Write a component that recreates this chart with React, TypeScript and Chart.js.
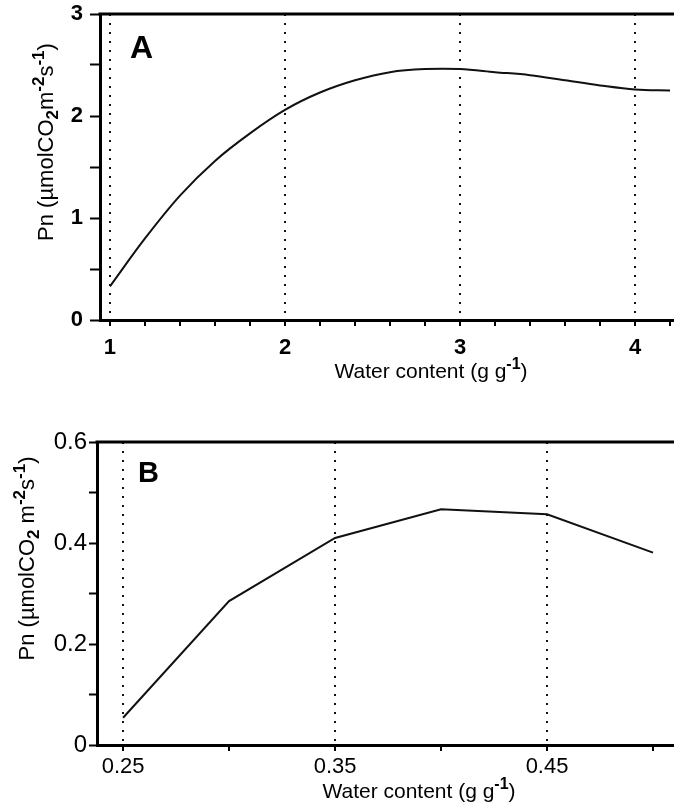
import React, { useEffect, useRef } from 'react';
import { Chart, registerables } from 'chart.js';

Chart.register(...registerables);
Chart.defaults.font.family = '"Liberation Sans", Arial, Helvetica, sans-serif';
Chart.defaults.color = '#000';

// ---------- Panel A data ----------
const A_WATER = [1.0, 1.2, 1.4, 1.6, 1.8, 2.0, 2.2, 2.4, 2.6, 2.8, 3.0, 3.2, 3.4, 3.6, 3.8, 4.0, 4.2];
const A_PN = [0.33, 0.8, 1.22, 1.56, 1.83, 2.06, 2.23, 2.35, 2.43, 2.46, 2.46, 2.43, 2.4, 2.35, 2.3, 2.26, 2.25];
const A_X_LABELS = [1, 2, 3, 4];
const A_Y_LABELS = [0, 1, 2, 3];

// ---------- Panel B data ----------
const B_WATER = [0.25, 0.3, 0.35, 0.4, 0.45, 0.5];
const B_PN = [0.054, 0.285, 0.41, 0.467, 0.457, 0.381];
const B_X_LABELS = [0.25, 0.35, 0.45];
const B_Y_LABELS = [0, 0.2, 0.4, 0.6];

// Rich-text titles: [text, kind] where kind: n = normal, sub = subscript, sup = superscript
const X_TITLE = [
  ['Water content (g g', 'n'],
  ['-1', 'sup'],
  [')', 'n'],
];
const A_Y_TITLE = [
  ['Pn (\u00B5molCO', 'n'],
  ['2', 'sub'],
  ['m', 'n'],
  ['-2', 'sup'],
  ['s', 'n'],
  ['-1', 'sup'],
  [')', 'n'],
];
const B_Y_TITLE = [
  ['Pn (\u00B5molCO', 'n'],
  ['2', 'sub'],
  [' m', 'n'],
  ['-2', 'sup'],
  ['s', 'n'],
  ['-1', 'sup'],
  [')', 'n'],
];

const FONT = '"Liberation Sans", Arial, Helvetica, sans-serif';

const inList = (v: number, list: number[]) => list.some((l) => Math.abs(l - v) < 1e-6);

function segFont(kind: string, size: number) {
  if (kind === 'sup' || kind === 'sub') return `bold ${Math.round(size * 0.75)}px ${FONT}`;
  return `${size}px ${FONT}`;
}

function drawRich(ctx: any, segs: any[], size: number) {
  let total = 0;
  const widths = segs.map(([t, k]) => {
    ctx.font = segFont(k, size);
    const w = ctx.measureText(t).width;
    total += w;
    return w;
  });
  let x = -total / 2;
  ctx.textAlign = 'left';
  ctx.textBaseline = 'alphabetic';
  const base = size * 0.36;
  segs.forEach(([t, k], i) => {
    ctx.font = segFont(k, size);
    let dy = 0;
    if (k === 'sup') dy = -size * 0.42;
    if (k === 'sub') dy = size * 0.22;
    ctx.fillText(t, x, base + dy);
    x += widths[i];
  });
}

const panelPlugin = {
  id: 'panelFrame',
  afterDraw(chart: any, _args: any, opts: any) {
    const { ctx, chartArea: ca } = chart;
    ctx.save();
    ctx.strokeStyle = '#000';
    ctx.lineWidth = 3;
    ctx.beginPath();
    ctx.moveTo(ca.left - 1.5, ca.top);
    ctx.lineTo(ca.right, ca.top);
    ctx.stroke();
    ctx.fillStyle = '#000';
    ctx.font = opts.letterFont;
    ctx.textAlign = 'left';
    ctx.textBaseline = 'alphabetic';
    ctx.fillText(opts.letter, ca.left + opts.letterDX, ca.top + opts.letterDY);
    ctx.restore();

    ctx.save();
    ctx.fillStyle = '#000';
    ctx.translate(opts.xTitleX, opts.xTitleY);
    drawRich(ctx, X_TITLE, 21);
    ctx.restore();

    ctx.save();
    ctx.fillStyle = '#000';
    ctx.translate(opts.yTitleX, (ca.top + ca.bottom) / 2 + opts.yTitleDY);
    ctx.rotate(-Math.PI / 2);
    drawRich(ctx, opts.yTitle, 22);
    ctx.restore();
  },
};

function buildConfig(p: any) {
  const dash = [2, 7];
  return {
    type: 'line',
    data: {
      datasets: [
        {
          data: p.xs.map((x: number, i: number) => ({ x, y: p.ys[i] })),
          borderColor: '#111',
          borderWidth: 2,
          pointRadius: 0,
          fill: false,
          tension: p.smooth ? 0.35 : 0,
        },
      ],
    },
    options: {
      animation: false,
      responsive: false,
      events: [],
      layout: { padding: { top: p.padTop, right: 10, left: 0, bottom: 0 } },
      plugins: {
        legend: { display: false },
        tooltip: { enabled: false },
        panelFrame: {
          letter: p.letter,
          letterFont: p.letterFont,
          letterDX: p.letterDX,
          letterDY: p.letterDY,
          yTitle: p.yTitle,
          yTitleX: p.yTitleX,
          yTitleDY: p.yTitleDY,
          xTitleX: p.xTitleX,
          xTitleY: p.xTitleY,
        },
      },
      scales: {
        x: {
          type: 'linear',
          position: 'bottom',
          min: p.xMin,
          max: p.xMax,
          afterFit: (s: any) => {
            s.height = p.xAxisHeight;
            s.paddingLeft = 0;
            s.paddingRight = 0;
          },
          border: { display: true, color: '#000', width: 3, dash },
          grid: {
            drawOnChartArea: true,
            drawTicks: true,
            tickLength: 6,
            tickWidth: 2,
            tickColor: '#000',
            lineWidth: 2,
            borderDash: dash,
            color: (c: any) => (c.tick && inList(c.tick.value, p.xLabels) ? '#111' : 'rgba(0,0,0,0)'),
          },
          ticks: {
            stepSize: p.xStep,
            autoSkip: false,
            includeBounds: false,
            maxRotation: 0,
            minRotation: 0,
            padding: p.xTickPad,
            color: '#000',
            font: { size: p.xTickSize, weight: p.tickWeight, family: FONT },
            callback: (v: number) => (inList(v, p.xLabels) ? p.xFmt(v) : ''),
          },
          title: { display: false },
        },
        y: {
          type: 'linear',
          min: 0,
          max: p.yMax,
          afterFit: (s: any) => {
            s.width = p.yAxisWidth;
            s.paddingTop = 0;
            s.paddingBottom = 0;
          },
          border: { display: true, color: '#000', width: 3 },
          grid: {
            drawOnChartArea: false,
            drawTicks: true,
            tickLength: p.yTickLen,
            tickWidth: 2,
            tickColor: '#000',
          },
          ticks: {
            stepSize: p.yStep,
            autoSkip: false,
            includeBounds: false,
            padding: p.yTickPad,
            color: '#000',
            font: { size: p.yTickSize, weight: p.tickWeight, family: FONT },
            callback: (v: number) => (inList(v, p.yLabels) ? p.yFmt(v) : ''),
          },
        },
      },
    },
    plugins: [panelPlugin],
  };
}

const PANEL_A = {
  xs: A_WATER,
  ys: A_PN,
  smooth: true,
  xLabels: A_X_LABELS,
  yLabels: A_Y_LABELS,
  xMin: 0.943,
  xMax: 4.714,
  xStep: 0.2,
  yMax: 3,
  yStep: 0.5,
  xFmt: (v: number) => String(Math.round(v)),
  yFmt: (v: number) => String(Math.round(v)),
  padTop: 14,
  xAxisHeight: 80,
  yAxisWidth: 100,
  xTickPad: 9,
  yTickPad: 7,
  yTickLen: 10,
  xTickSize: 22,
  yTickSize: 22,
  tickWeight: 'bold',
  letter: 'A',
  letterFont: `bold 32px ${FONT}`,
  letterDX: 30,
  letterDY: 44,
  yTitle: A_Y_TITLE,
  yTitleX: 45,
  yTitleDY: -25,
  xTitleX: 431,
  xTitleY: 370,
};

const PANEL_B = {
  xs: B_WATER,
  ys: B_PN,
  smooth: false,
  xLabels: B_X_LABELS,
  yLabels: B_Y_LABELS,
  xMin: 0.2377,
  xMax: 0.5415,
  xStep: 0.05,
  yMax: 0.6,
  yStep: 0.1,
  xFmt: (v: number) => v.toFixed(2),
  yFmt: (v: number) => (Math.abs(v) < 1e-9 ? '0' : v.toFixed(1)),
  padTop: 42,
  xAxisHeight: 66,
  yAxisWidth: 97,
  xTickPad: 3,
  yTickPad: 2,
  yTickLen: 8,
  xTickSize: 22,
  yTickSize: 24,
  tickWeight: 'normal',
  letter: 'B',
  letterFont: `bold 29px ${FONT}`,
  letterDX: 41,
  letterDY: 40,
  yTitle: B_Y_TITLE,
  yTitleX: 26,
  yTitleDY: -35,
  xTitleX: 419,
  xTitleY: 390,
};

export default function App() {
  const refA = useRef<HTMLCanvasElement>(null);
  const refB = useRef<HTMLCanvasElement>(null);

  useEffect(() => {
    const a = new Chart(refA.current as HTMLCanvasElement, buildConfig(PANEL_A) as any);
    const b = new Chart(refB.current as HTMLCanvasElement, buildConfig(PANEL_B) as any);
    return () => {
      a.destroy();
      b.destroy();
    };
  }, []);

  return (
    <div
      style={{
        position: 'fixed',
        left: 0,
        top: 0,
        width: 674,
        height: 811,
        overflow: 'hidden',
        background: '#fff',
      }}
    >
      <canvas
        ref={refA}
        width={770}
        height={400}
        style={{ position: 'absolute', left: 0, top: 0, width: 770, height: 400 }}
      />
      <canvas
        ref={refB}
        width={751}
        height={411}
        style={{ position: 'absolute', left: 0, top: 400, width: 751, height: 411 }}
      />
    </div>
  );
}
